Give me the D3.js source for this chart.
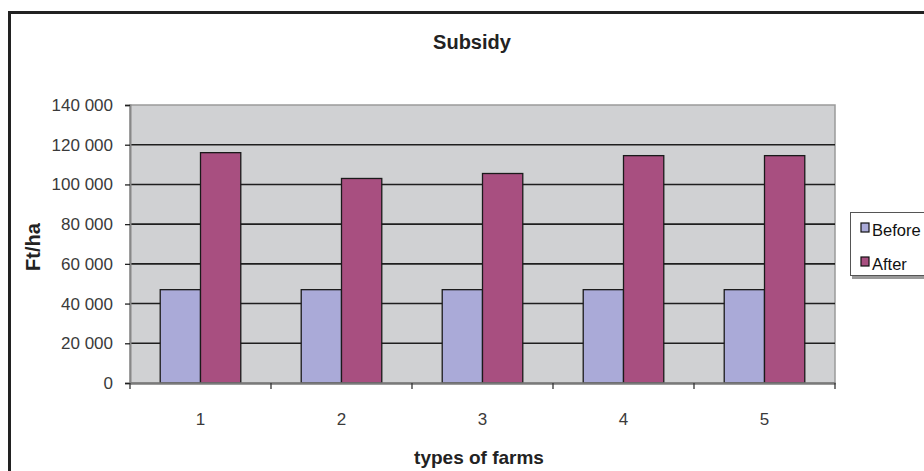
<!DOCTYPE html>
<html>
<head>
<meta charset="utf-8">
<script src="https://cdn.jsdelivr.net/npm/d3@7/dist/d3.min.js"></script>
<style>
  html, body { margin: 0; padding: 0; background: #ffffff; }
  svg { display: block; }
</style>
</head>
<body>
<svg id="chart" width="924" height="471"></svg>
<script>
// ---- data ----
const categories = ["1", "2", "3", "4", "5"];
const seriesNames = ["Before", "After"];
const beforeValues = [47000, 47000, 47000, 47000, 47000];
const afterValues = [116000, 103000, 105500, 114500, 114500];
const yTickValues = [0, 20000, 40000, 60000, 80000, 100000, 120000, 140000];
const chartTitle = "Subsidy";
const xTitle = "types of farms";
const yTitle = "Ft/ha";

const colors = { Before: "#aaaad8", After: "#a84f80" };
const rows = categories.map((c, i) => ({ cat: c, Before: beforeValues[i], After: afterValues[i] }));

// ---- layout ----
const svg = d3.select("#chart");
const plot = { left: 130, right: 835, top: 105, bottom: 383 };
const sans = "'Liberation Sans', Arial, sans-serif";

// outer chart frame
svg.append("rect")
  .attr("x", 9.5).attr("y", 12.5)
  .attr("width", 940).attr("height", 480)
  .attr("fill", "#ffffff").attr("stroke", "#222").attr("stroke-width", 3);

const x = d3.scaleBand()
  .domain(categories)
  .range([plot.left, plot.right])
  .paddingInner(1.5 / 3.5)
  .paddingOuter(0.75 / 3.5);
const xs = d3.scaleBand().domain(seriesNames).range([0, x.bandwidth()]);
const y = d3.scaleLinear().domain([0, 140000]).range([plot.bottom, plot.top]);

// plot background
svg.append("rect")
  .attr("x", plot.left).attr("y", plot.top)
  .attr("width", plot.right - plot.left).attr("height", plot.bottom - plot.top)
  .attr("fill", "#d0d1d3").attr("stroke", "#9a9a9a").attr("stroke-width", 1.5);

// gridlines
svg.append("g").selectAll("line")
  .data(yTickValues.filter(v => v > 0 && v < 140000))
  .join("line")
  .attr("x1", plot.left).attr("x2", plot.right)
  .attr("y1", d => y(d)).attr("y2", d => y(d))
  .attr("stroke", "#1e1e1e").attr("stroke-width", 1.6);

// bars
const groups = svg.append("g").selectAll("g")
  .data(rows).join("g")
  .attr("transform", d => `translate(${x(d.cat)},0)`);
groups.selectAll("rect")
  .data(d => seriesNames.map(s => ({ s, v: d[s] })))
  .join("rect")
  .attr("x", d => xs(d.s))
  .attr("y", d => y(d.v))
  .attr("width", xs.bandwidth())
  .attr("height", d => y(0) - y(d.v))
  .attr("fill", d => colors[d.s])
  .attr("stroke", "#1a1a1a").attr("stroke-width", 1.3);

// y axis
const yAxis = svg.append("g")
  .attr("transform", `translate(${plot.left},0)`)
  .call(d3.axisLeft(y).tickValues(yTickValues).tickSize(5).tickPadding(12)
    .tickFormat(d => d3.format(",")(d).replace(/,/g, " ")));
yAxis.select(".domain").attr("stroke", "#888").attr("stroke-width", 2);
yAxis.selectAll(".tick line").attr("stroke", "#222").attr("stroke-width", 1.3);
yAxis.selectAll(".tick text")
  .attr("font-family", sans).attr("font-size", 17).attr("fill", "#3a3a3a");

// x axis
const xAxis = svg.append("g")
  .attr("transform", `translate(0,${plot.bottom})`)
  .call(d3.axisBottom(x).tickSize(0).tickPadding(30));
xAxis.select(".domain").attr("stroke", "#7a7a7a").attr("stroke-width", 2.5);
xAxis.selectAll(".tick text")
  .attr("font-family", sans).attr("font-size", 17).attr("fill", "#3a3a3a");
// category boundary ticks
const boundaries = categories.map(c => x(c) - x.step() * x.paddingInner() / 2).slice(1);
svg.append("g").selectAll("line")
  .data([plot.left].concat(boundaries, [plot.right]))
  .join("line")
  .attr("x1", d => d).attr("x2", d => d)
  .attr("y1", plot.bottom).attr("y2", plot.bottom + 6)
  .attr("stroke", "#333").attr("stroke-width", 1.3);

// titles
svg.append("text")
  .attr("x", 472).attr("y", 49)
  .attr("text-anchor", "middle")
  .attr("font-family", sans).attr("font-weight", "bold").attr("font-size", 20)
  .attr("fill", "#222")
  .text(chartTitle);
svg.append("text")
  .attr("x", 479).attr("y", 464)
  .attr("text-anchor", "middle")
  .attr("font-family", sans).attr("font-weight", "bold").attr("font-size", 19)
  .attr("fill", "#222")
  .text(xTitle);
svg.append("text")
  .attr("transform", "translate(40,247) rotate(-90)")
  .attr("text-anchor", "middle")
  .attr("font-family", sans).attr("font-weight", "bold").attr("font-size", 20)
  .attr("fill", "#222")
  .text(yTitle);

// legend
const lg = svg.append("g");
lg.append("rect")
  .attr("x", 852).attr("y", 214).attr("width", 120).attr("height", 65)
  .attr("fill", "#999");
lg.append("rect")
  .attr("x", 850.5).attr("y", 212.5).attr("width", 120).attr("height", 63)
  .attr("fill", "#fff").attr("stroke", "#555").attr("stroke-width", 1);
const items = lg.selectAll("g.item")
  .data(seriesNames).join("g").attr("class", "item")
  .attr("transform", (d, i) => `translate(861,${223 + i * 34})`);
items.append("rect")
  .attr("width", 8).attr("height", 9)
  .attr("fill", d => colors[d]).attr("stroke", "#111").attr("stroke-width", 1.2);
items.append("text")
  .attr("x", 11).attr("y", 13)
  .attr("font-family", sans).attr("font-size", 16.5).attr("fill", "#111")
  .text(d => d);
</script>
</body>
</html>
